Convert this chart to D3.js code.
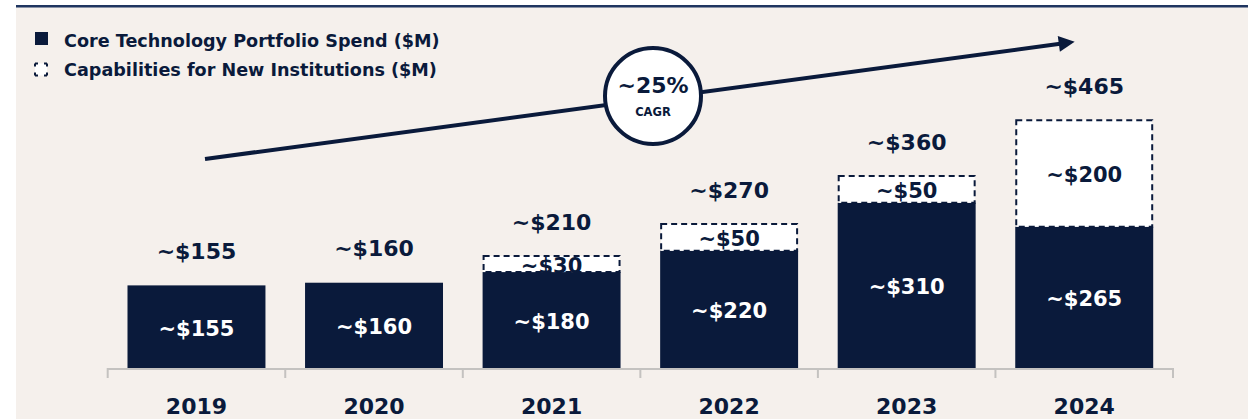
<!DOCTYPE html>
<html><head><meta charset="utf-8">
<script src="https://cdn.jsdelivr.net/npm/d3@7/dist/d3.min.js"></script>
<style>
html,body{margin:0;padding:0;background:#fff;}
svg{display:block;}
text{font-family:"DejaVu Sans",sans-serif;font-weight:700;}
</style></head>
<body>
<svg id="c" width="1251" height="419"></svg>
<script>
const years = ["2019","2020","2021","2022","2023","2024"];
const coreSpend = [155,160,180,220,310,265];
const newInst = [0,0,30,50,50,200];
const totals = [155,160,210,270,360,465];
const legendLabels = ["Core Technology Portfolio Spend ($M)","Capabilities for New Institutions ($M)"];
const cagrLabel = "~25%";
const cagrSub = "CAGR";

const NAVY = "#0a1a3b";
const CREAM = "#f5f0ec";
const svg = d3.select("#c");

svg.append("rect").attr("x",16).attr("y",7).attr("width",1232).attr("height",412).attr("fill",CREAM);
svg.append("rect").attr("x",16).attr("y",5).attr("width",1232).attr("height",2.5).attr("fill","#1f3560");

const x = d3.scaleBand().domain(years).range([107.7,1173]).paddingInner(0.223).paddingOuter(0.1115);
const y = d3.scaleLinear().domain([0,500]).range([368,101.5]);
const fmt = v => "~$" + v;

// axis
const step = x.step();
const g = svg.append("g");
g.append("line").attr("x1",107.7).attr("x2",1173).attr("y1",369).attr("y2",369)
  .attr("stroke","#c4c2c0").attr("stroke-width",2);
const bounds = years.map(d => x(d) - step*0.223/2).concat([1173]);
g.selectAll("line.tk").data(bounds).join("line").attr("class","tk")
  .attr("x1",d=>d).attr("x2",d=>d).attr("y1",368).attr("y2",378)
  .attr("stroke","#c4c2c0").attr("stroke-width",2);

// core bars
svg.selectAll("rect.core").data(years).join("rect").attr("class","core")
  .attr("x",d=>x(d)).attr("width",x.bandwidth())
  .attr("y",(d,i)=>y(coreSpend[i])).attr("height",(d,i)=>y(0)-y(coreSpend[i]))
  .attr("fill",NAVY);

// new institution segments
svg.selectAll("rect.ni").data(years.filter((d,i)=>newInst[i]>0)).join("rect").attr("class","ni")
  .attr("x",d=>x(d)+1).attr("width",x.bandwidth()-2)
  .attr("y",d=>{const i=years.indexOf(d);return y(coreSpend[i]+newInst[i]);})
  .attr("height",d=>{const i=years.indexOf(d);return y(coreSpend[i])-y(coreSpend[i]+newInst[i]);})
  .attr("fill","#fff").attr("stroke",NAVY).attr("stroke-width",2).attr("stroke-dasharray","6,4");

// labels inside core
svg.selectAll("text.cl").data(years).join("text").attr("class","cl")
  .attr("x",d=>x(d)+x.bandwidth()/2)
  .attr("y",(d,i)=>(y(coreSpend[i])+y(0))/2+2)
  .attr("text-anchor","middle").attr("dominant-baseline","central")
  .attr("fill","#fff").attr("font-size",21).text((d,i)=>fmt(coreSpend[i]));

// labels in new segment
svg.selectAll("text.nl").data(years.filter((d,i)=>newInst[i]>0)).join("text").attr("class","nl")
  .attr("x",d=>x(d)+x.bandwidth()/2)
  .attr("y",d=>{const i=years.indexOf(d);return (y(coreSpend[i])+y(coreSpend[i]+newInst[i]))/2+2;})
  .attr("text-anchor","middle").attr("dominant-baseline","central")
  .attr("fill",NAVY).attr("font-size",21).text(d=>fmt(newInst[years.indexOf(d)]));

// total labels
svg.selectAll("text.tl").data(years).join("text").attr("class","tl")
  .attr("x",d=>x(d)+x.bandwidth()/2)
  .attr("y",(d,i)=>y(totals[i])-34)
  .attr("text-anchor","middle").attr("dominant-baseline","central")
  .attr("fill",NAVY).attr("font-size",22).text((d,i)=>fmt(totals[i]));

// year labels
svg.selectAll("text.yr").data(years).join("text").attr("class","yr")
  .attr("x",d=>x(d)+x.bandwidth()/2).attr("y",406)
  .attr("text-anchor","middle").attr("dominant-baseline","central")
  .attr("fill",NAVY).attr("font-size",22).text(d=>d);

// legend
svg.append("rect").attr("x",35).attr("y",32).attr("width",13).attr("height",13).attr("fill",NAVY);
svg.append("rect").attr("x",35).attr("y",63.5).attr("width",12).attr("height",12).attr("fill","#fff")
  .attr("stroke",NAVY).attr("stroke-width",2).attr("stroke-dasharray","3 6 3 0");
svg.selectAll("text.lg").data(legendLabels).join("text").attr("class","lg")
  .attr("x",64).attr("y",(d,i)=>41+i*29).attr("dominant-baseline","central")
  .attr("fill",NAVY).attr("font-size",17.6).text(d=>d);

// CAGR arrow
const defs = svg.append("defs");
defs.append("marker").attr("id","ah").attr("viewBox","0 0 10 10").attr("refX",2).attr("refY",5)
  .attr("markerWidth",4.2).attr("markerHeight",4).attr("orient","auto").attr("markerUnits","strokeWidth")
  .append("path").attr("d","M0,0L10,5L0,10Z").attr("fill",NAVY);
svg.append("line").attr("x1",205).attr("y1",159).attr("x2",1062).attr("y2",43.5)
  .attr("stroke",NAVY).attr("stroke-width",4).attr("marker-end","url(#ah)");
svg.append("circle").attr("cx",653).attr("cy",96).attr("r",48).attr("fill","#fff")
  .attr("stroke",NAVY).attr("stroke-width",4);
svg.append("text").attr("x",653).attr("y",85).attr("text-anchor","middle").attr("dominant-baseline","central")
  .attr("fill",NAVY).attr("font-size",22).text(cagrLabel);
svg.append("text").attr("x",653).attr("y",112).attr("text-anchor","middle").attr("dominant-baseline","central")
  .attr("fill",NAVY).attr("font-size",11.5).text(cagrSub);
</script>
</body></html>
